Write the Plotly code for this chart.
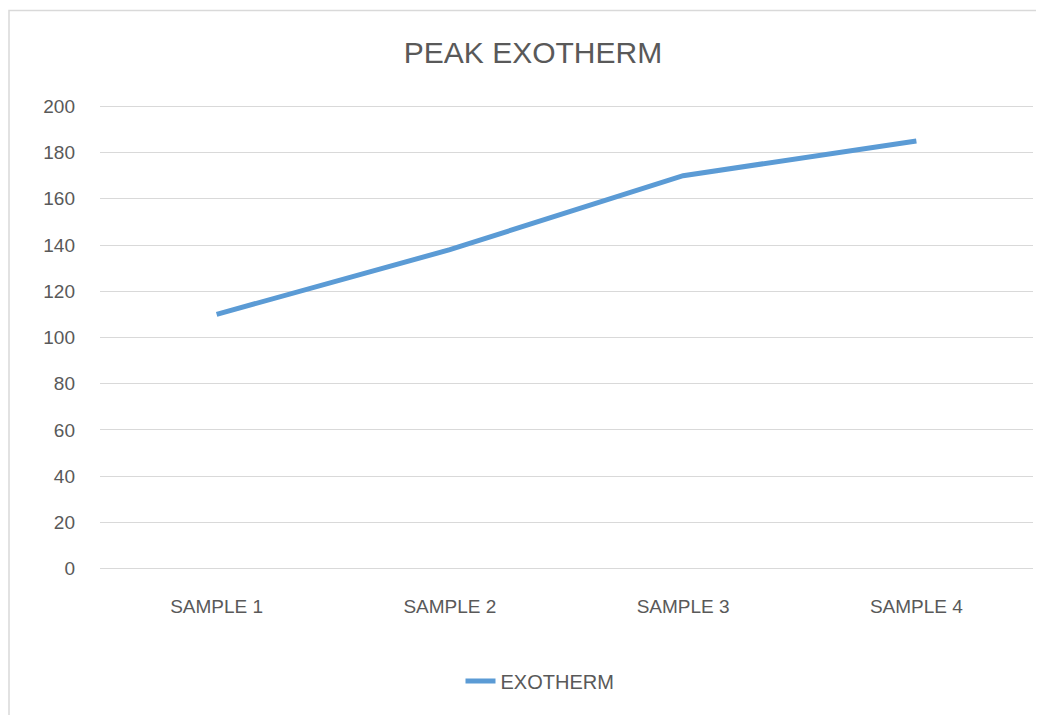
import plotly.graph_objects as go

categories = ["SAMPLE 1", "SAMPLE 2", "SAMPLE 3", "SAMPLE 4"]
exotherm = [110, 138, 170, 185]
series_name = "EXOTHERM"
title_text = "PEAK EXOTHERM"

FONT = "Liberation Sans, Arial, sans-serif"
TXT = "#595959"
OFF = 8  # page offset of the rendered figure
L = 100 - OFF

fig = go.Figure()
fig.add_trace(go.Scatter(
    x=categories, y=exotherm, mode="lines", name=series_name,
    line=dict(color="#5B9BD5", width=5),
))

fig.update_layout(
    width=1044, height=715,
    paper_bgcolor="white", plot_bgcolor="white",
    margin=dict(l=L, r=19, t=96, b=152),
    font=dict(family=FONT, color=TXT, size=18),
    title=dict(text=title_text, x=(533 - OFF)/1044, xref="container", xanchor="center",
               y=1 - (52 - OFF)/715, yref="container", yanchor="middle",
               font=dict(family=FONT, size=30, color=TXT)),
    showlegend=True,
    legend=dict(orientation="h", xref="container", yref="container",
                x=(540 - OFF)/1044, xanchor="center", y=(715 - (681 - OFF))/715, yanchor="middle",
                font=dict(family=FONT, size=20, color=TXT)),
    xaxis=dict(type="category", range=[-0.5, 3.5], showgrid=False, zeroline=False,
               showline=False, ticks="", ticklabelstandoff=22,
               tickfont=dict(family=FONT, size=19, color=TXT)),
    yaxis=dict(range=[-1, 201], tickvals=list(range(0, 201, 20)), showgrid=True,
               gridcolor="#D9D9D9", gridwidth=1.3,
               zeroline=False, showline=False, ticks="", ticklabelstandoff=24,
               tickfont=dict(family=FONT, size=19, color=TXT)),
    shapes=[dict(type="rect", xref="paper", yref="paper",
                 x0=(1 - L)/933, x1=1.2, y0=-1, y1=1 + (103.7 - 10)/467.6,
                 line=dict(color="#D9D9D9", width=1.5), fillcolor="rgba(0,0,0,0)",
                 layer="below")],
)

fig.write_html("out.html")
